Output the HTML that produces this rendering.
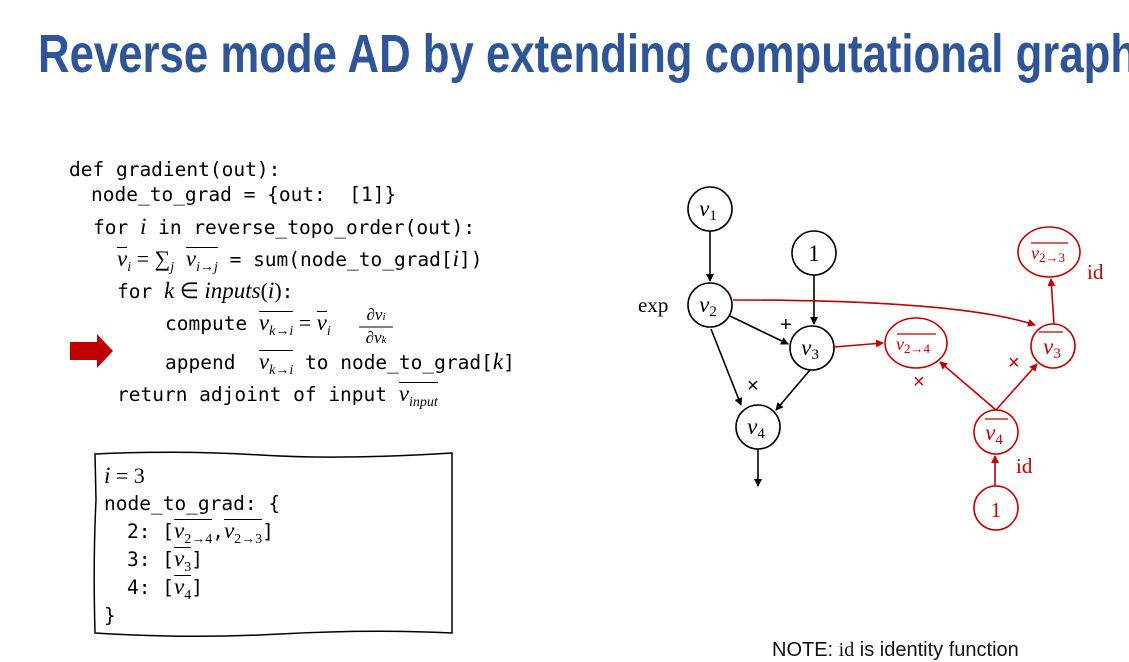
<!DOCTYPE html>
<html><head><meta charset="utf-8"><style>
html,body{margin:0;padding:0;background:#fff;width:1129px;height:662px;overflow:hidden;position:relative}
svg{display:block;position:absolute;left:0;top:0}
.ln{position:absolute;white-space:pre;font-family:"DejaVu Sans Mono","Liberation Mono",monospace;font-size:19.5px;line-height:26px;color:#000}
.m{font-family:"Liberation Serif",serif;font-style:italic;font-size:23px}
.n{font-family:"Liberation Serif",serif;font-size:22px}
.s{font-size:14px;position:relative;top:5px;font-family:"Liberation Serif",serif}
.si{font-size:14px;position:relative;top:5px;font-family:"Liberation Serif",serif;font-style:italic}
.ov{display:inline-block;border-top:1.3px solid #000;line-height:22px;padding-top:0px}
.fr{position:absolute;text-align:center;font-family:"Liberation Serif",serif;font-style:italic;font-size:17px;line-height:19px;width:34px}
</style></head><body>
<svg width="1129" height="662" viewBox="0 0 1129 662" xmlns="http://www.w3.org/2000/svg">
<defs>
<marker id="ab" markerWidth="8" markerHeight="8" refX="7" refY="4" orient="auto" markerUnits="userSpaceOnUse"><path d="M0,0 L8,4 L0,8 z" fill="#000"/></marker>
<marker id="ar" markerWidth="8" markerHeight="8" refX="7" refY="4" orient="auto" markerUnits="userSpaceOnUse"><path d="M0,0 L8,4 L0,8 z" fill="#c00000"/></marker>
</defs>
<text x="38" y="72" transform="translate(38 0) scale(0.81 1) translate(-38 0)" font-family="Liberation Sans,sans-serif" font-weight="bold" font-size="54" fill="#2f5597">Reverse mode AD by extending computational graph</text>

<path d="M70,342 L97,342 L97,334 L113,351 L97,368 L97,360 L70,360 z" fill="#c00000"/>

<path d="M95,454 Q180,450 260,455 T452,453 L452,633 Q370,629 280,634 T95,633 Q93,560 96,500 Z" fill="none" stroke="#000" stroke-width="1.5"/>

<line x1="359" y1="327" x2="393" y2="327" stroke="#000" stroke-width="1"/>

<g fill="none" stroke="#000" stroke-width="1.6">
<circle cx="710" cy="209" r="22"/>
<circle cx="814" cy="253" r="22"/>
<circle cx="710" cy="305" r="22"/>
<circle cx="812" cy="348" r="22"/>
<circle cx="758" cy="427" r="22"/>
<line x1="710" y1="231" x2="710" y2="281" marker-end="url(#ab)"/>
<line x1="814" y1="275" x2="814" y2="324" marker-end="url(#ab)"/>
<line x1="730" y1="316" x2="788" y2="344" marker-end="url(#ab)"/>
<line x1="711" y1="329" x2="741" y2="405" marker-end="url(#ab)"/>
<line x1="810" y1="370" x2="776" y2="410" marker-end="url(#ab)"/>
<line x1="758" y1="449" x2="758" y2="486" marker-end="url(#ab)"/>
</g>
<g font-family="Liberation Serif,serif" font-style="italic" font-size="23" text-anchor="middle">
<text x="708" y="216">v<tspan font-style="normal" font-size="15" dy="4">1</tspan></text>
<text x="708" y="312">v<tspan font-style="normal" font-size="15" dy="4">2</tspan></text>
<text x="810" y="355">v<tspan font-style="normal" font-size="15" dy="4">3</tspan></text>
<text x="756" y="434">v<tspan font-style="normal" font-size="15" dy="4">4</tspan></text>
<text x="814" y="261" font-style="normal">1</text>
</g>
<text x="638" y="312" font-family="Liberation Serif,serif" font-size="21">exp</text>
<text x="780" y="331" font-family="Liberation Sans,sans-serif" font-size="20">+</text>
<text x="747" y="392" font-family="Liberation Sans,sans-serif" font-size="20">×</text>

<g fill="none" stroke="#c00000" stroke-width="1.6">
<ellipse cx="916" cy="343" rx="31" ry="25"/>
<ellipse cx="1049" cy="252" rx="31" ry="25"/>
<circle cx="1053" cy="346" r="22"/>
<circle cx="996" cy="432" r="22"/>
<circle cx="996" cy="508" r="22"/>
<path d="M733,300 Q960,300 1035,325" marker-end="url(#ar)"/>
<line x1="834" y1="347" x2="883" y2="343" marker-end="url(#ar)"/>
<line x1="1054" y1="324" x2="1051" y2="279" marker-end="url(#ar)"/>
<line x1="996" y1="410" x2="940" y2="362" marker-end="url(#ar)"/>
<line x1="996" y1="410" x2="1037" y2="364" marker-end="url(#ar)"/>
<line x1="995" y1="486" x2="995" y2="456" marker-end="url(#ar)"/>
</g>
<g font-family="Liberation Serif,serif" font-style="italic" fill="#c00000" text-anchor="middle">
<text x="913" y="350" font-size="18">v<tspan font-style="normal" font-size="13" dy="3">2→4</tspan></text>
<text x="1048" y="259" font-size="18">v<tspan font-style="normal" font-size="13" dy="3">2→3</tspan></text>
<text x="1052" y="354" font-size="23">v<tspan font-style="normal" font-size="15" dy="4">3</tspan></text>
<text x="994" y="440" font-size="23">v<tspan font-style="normal" font-size="15" dy="4">4</tspan></text>
<text x="996" y="517" font-size="21" font-style="normal">1</text>
</g>
<g stroke="#c00000" stroke-width="1.2">
<line x1="897" y1="334" x2="936" y2="334"/>
<line x1="1031" y1="243" x2="1068" y2="243"/>
<line x1="1039" y1="332" x2="1063" y2="332"/>
<line x1="985" y1="419" x2="1008" y2="419"/>
</g>
<g fill="#c00000" font-family="Liberation Sans,sans-serif" font-size="20">
<text x="913" y="388">×</text>
<text x="1008" y="369">×</text>
</g>
<g fill="#c00000" font-family="Liberation Serif,serif" font-size="21">
<text x="1087" y="279">id</text>
<text x="1016" y="473">id</text>
</g>
<text x="772" y="656" font-family="Liberation Sans,sans-serif" font-size="20" fill="#111">NOTE: <tspan font-family="Liberation Serif,serif">id</tspan> is identity function</text>
</svg>

<div class="ln" style="left:69px;top:157px">def gradient(out):</div>
<div class="ln" style="left:91px;top:182px">node_to_grad = {out:  [1]}</div>
<div class="ln" style="left:93px;top:214px">for <span class="m">i</span> in reverse_topo_order(out):</div>
<div class="ln" style="left:117px;top:246px"><span class="ov"><span class="m">v</span></span><span class="si">i</span><span class="n"> = ∑</span><span class="si">j</span> <span class="ov"><span class="m">v</span><span class="si">i→j</span></span> = sum(node_to_grad[<span class="m">i</span>])</div>
<div class="ln" style="left:117px;top:278px">for <span class="m">k</span><span class="n"> ∈ </span><span class="m">inputs</span><span class="n">(</span><span class="m">i</span><span class="n">)</span>:</div>
<div class="ln" style="left:165px;top:310px">compute <span class="ov"><span class="m">v</span><span class="si">k→i</span></span><span class="n"> = </span><span class="ov"><span class="m">v</span></span><span class="si">i</span></div>
<div class="fr" style="left:359px;top:305px">∂v<span style="font-size:11px">i</span></div>
<div class="fr" style="left:359px;top:328px">∂v<span style="font-size:11px">k</span></div>
<div class="ln" style="left:165px;top:349px">append  <span class="ov"><span class="m">v</span><span class="si">k→i</span></span> to node_to_grad[<span class="m">k</span>]</div>
<div class="ln" style="left:117px;top:382px">return adjoint of input <span class="ov"><span class="m">v</span><span class="si">input</span></span></div>

<div class="ln" style="left:104px;top:463px"><span class="m">i</span><span class="n"> = 3</span></div>
<div class="ln" style="left:104px;top:491px">node_to_grad: {</div>
<div class="ln" style="left:127px;top:519px">2: [<span class="ov"><span class="m">v</span><span class="s">2→4</span></span>,<span class="ov"><span class="m">v</span><span class="s">2→3</span></span>]</div>
<div class="ln" style="left:127px;top:547px">3: [<span class="ov"><span class="m">v</span><span class="s">3</span></span>]</div>
<div class="ln" style="left:127px;top:575px">4: [<span class="ov"><span class="m">v</span><span class="s">4</span></span>]</div>
<div class="ln" style="left:104px;top:603px">}</div>
</body></html>
